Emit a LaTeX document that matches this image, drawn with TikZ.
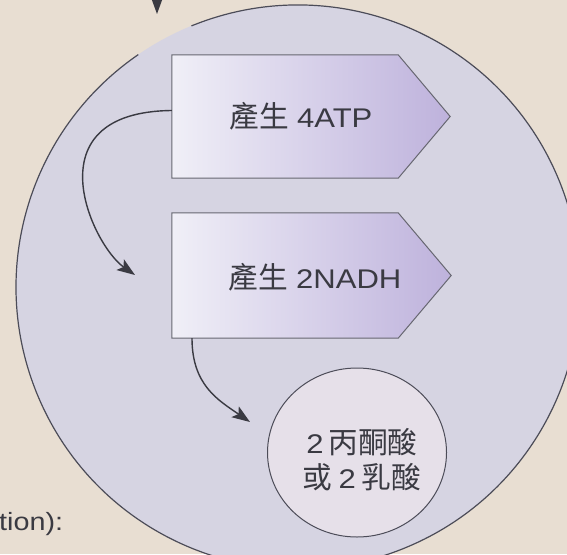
\documentclass[tikz,border=0pt]{standalone}
\usepackage{fontspec}
\setmainfont{Liberation Sans}[FakeStretch=1.15]
\newfontfamily\cjk{Noto Sans CJK TC}[Scale=1.1]
\usetikzlibrary{arrows.meta,calc,shapes.geometric}
\definecolor{bgc}{HTML}{E8DED2}
\definecolor{cellc}{HTML}{D6D4E2}
\definecolor{outc}{HTML}{4C4C58}
\definecolor{boxl}{HTML}{F0EFF7}
\definecolor{boxr}{HTML}{BEB2DC}
\definecolor{prodc}{HTML}{E6E0E9}
\definecolor{txtc}{HTML}{3A3A42}
\tikzset{
  outl/.style={draw=outc, line width=1.2pt},
  rectbox/.style={rectangle, minimum width=226pt, inner sep=0pt},
  boxsh/.style={draw=outc!85, line width=1pt, left color=boxl, right color=boxr},
  boxtext/.style={font=\fontsize{27}{30}\selectfont, text=txtc, inner sep=0pt},
  prodcirc/.style={ellipse, draw=outc, line width=1pt, fill=prodc, minimum width=179pt, minimum height=169pt, inner sep=0pt},
  prodtext/.style={font=\fontsize{27}{35}\selectfont, text=txtc, align=center, inner sep=0pt},
  conn/.style={draw=txtc, line width=1.4pt, -{Stealth[length=18pt,width=13pt,inset=4pt]}},
}
\begin{document}
\begin{tikzpicture}[x=1pt,y=-1pt]
\path[use as bounding box] (0,0) rectangle (567,554);
\fill[bgc] (0,0) rectangle (567,554);
\clip (0,0) rectangle (567,554);
% cell
\coordinate (C) at (298,287);
\fill[cellc] (C) circle[radius=282];
\draw[outl] ([shift={(247.8:282)}]C) arc[start angle=247.8, end angle=595.5, radius=282];
% top arrow (only tip visible)
\coordinate (ts) at (157,-4);
\coordinate (te) at (157,14);
\draw[conn] (ts) -- (te);
% boxes
\node[rectbox, minimum height=123pt] (b1) at (285,116.5) {};
\path[boxsh] (b1.north west) -- (b1.north east) -- ($(b1.east)+(52,0)$) -- (b1.south east) -- (b1.south west) -- cycle;
\node[boxtext] (t1) at (301,116) {{\cjk 產生}\hspace{0.3em}4ATP};
\node[rectbox, minimum height=125pt] (b2) at (285,275.5) {};
\path[boxsh] (b2.north west) -- (b2.north east) -- ($(b2.east)+(53,0)$) -- (b2.south east) -- (b2.south west) -- cycle;
\node[boxtext] (t2) at (315,277) {{\cjk 產生}\hspace{0.3em}2NADH};
% product
\node[prodcirc] (prod) at (357,452.5) {};
\node[prodtext] (pt) at (362,460) {2\hspace{5pt}{\cjk 丙酮酸}\\{\cjk 或}\hspace{6pt}2\hspace{6pt}{\cjk 乳酸}};
% curved arrows
\coordinate (a1e) at (135,275);
\draw[conn] ([yshift=6pt]b1.west) .. controls (30,112) and (92,245) .. (a1e);
\coordinate (a2e) at (250,422);
\draw[conn] ([xshift=-93pt]b2.south) .. controls (192,385) and (218,400) .. (a2e);
% cut-off caption
\node[anchor=base west, inner sep=0pt, font=\fontsize{25}{30}\selectfont, text=txtc] (cap) at (-1,530) {tion):};
\end{tikzpicture}
\end{document}
